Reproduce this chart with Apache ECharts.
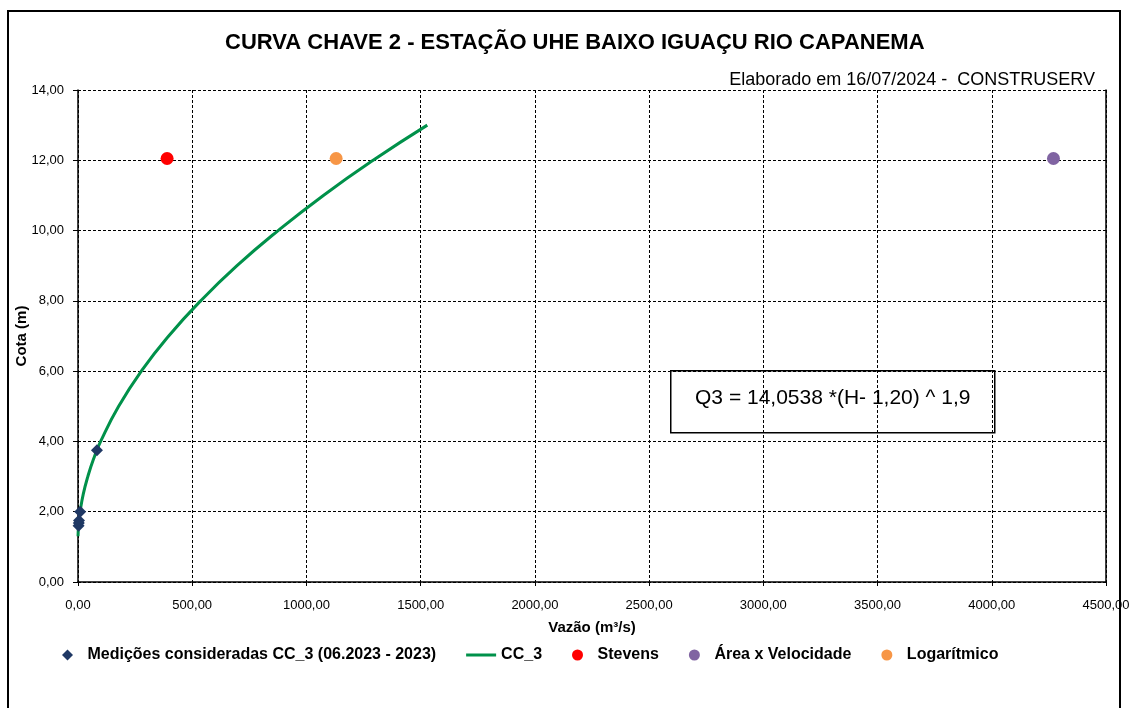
<!DOCTYPE html>
<html>
<head>
<meta charset="utf-8">
<script src="https://cdn.jsdelivr.net/npm/echarts@6/dist/echarts.min.js"></script>
<style>
  html, body { margin: 0; padding: 0; background: #fff; }
  #chart { width: 1129px; height: 708px; }
</style>
</head>
<body>
<div id="chart"></div>
<script>
// medições (vazão m3/s, cota m)
const medQ = [2.5, 3.5, 4.5, 9.5, 83]
const medH = [1.6, 1.68, 1.75, 2.0, 3.75]

// curva CC_3
const curvaQ = [0.2, 0.7, 1.4, 4.5, 9.2, 23, 43, 68, 99, 178, 277, 397, 537, 696, 876, 1074, 1292, 1529]
const curvaH = [1.3, 1.4, 1.5, 1.75, 2, 2.5, 3, 3.5, 4, 5, 6, 7, 8, 9, 10, 11, 12, 13]

const stevens = [[390, 12.05]]
const areaVel = [[4270, 12.05]]
const logaritmico = [[1130, 12.05]]

const yTicks = { min: 0, max: 14, interval: 2 }
const xTicks = { min: 0, max: 4500, interval: 500 }

const fmt = v => v.toFixed(2).replace('.', ',')
const pairs = (a, b) => a.map((v, i) => [v, b[i]])

const chart = echarts.init(document.getElementById('chart'))
const font = 'Liberation Sans'

const option = {
  animation: false,
  backgroundColor: '#fff',
  textStyle: { fontFamily: font },
  title: {
    text: 'CURVA CHAVE 2 - ESTAÇÃO UHE BAIXO IGUAÇU RIO CAPANEMA',
    left: 220,
    top: 27,
    textStyle: { fontSize: 22, fontWeight: 'bold', color: '#000', fontFamily: font }
  },
  grid: { left: 78, right: 23, top: 90, bottom: 126, outerBoundsMode: 'none', containLabel: false },
  legend: {
    top: 642,
    left: 57,
    itemWidth: 30,
    itemHeight: 11,
    itemGap: 30,
    textStyle: { fontSize: 16, fontWeight: 'bold', color: '#000', fontFamily: font },
    data: [
      { name: 'Medições consideradas CC_3 (06.2023 - 2023)', icon: 'path://M5,0L10,5L5,10L0,5Z' },
      { name: 'CC_3', icon: 'path://M0,0H30V3H0Z' },
      { name: 'Stevens', icon: 'circle' },
      { name: 'Área x Velocidade', icon: 'circle' },
      { name: 'Logarítmico', icon: 'circle' }
    ]
  },
  xAxis: {
    type: 'value',
    min: xTicks.min,
    max: xTicks.max,
    interval: xTicks.interval,
    name: 'Vazão (m³/s)',
    nameLocation: 'middle',
    nameGap: 38,
    nameTextStyle: { fontSize: 15, fontWeight: 'bold', color: '#000' },
    axisLine: { show: true, onZero: false, lineStyle: { color: '#000', width: 1.5 } },
    axisTick: { show: true, length: 4, lineStyle: { color: '#000' } },
    axisLabel: { formatter: fmt, fontSize: 13, color: '#000', margin: 17 },
    splitLine: { show: true, lineStyle: { color: '#000', type: [3, 2], width: 1 } }
  },
  yAxis: [
    {
      type: 'value',
      min: yTicks.min,
      max: yTicks.max,
      interval: yTicks.interval,
      name: 'Cota (m)',
      nameLocation: 'middle',
      nameGap: 49,
      nameMoveOverlap: false,
      nameTextStyle: { fontSize: 15, fontWeight: 'bold', color: '#000' },
      axisLine: { show: true, lineStyle: { color: '#000', width: 1.5 } },
      axisTick: { show: true, length: 5, lineStyle: { color: '#000' } },
      axisLabel: { formatter: fmt, fontSize: 13, color: '#000', margin: 14 },
      splitLine: { show: true, lineStyle: { color: '#000', type: [3, 2], width: 1 } }
    },
    {
      type: 'value',
      min: yTicks.min,
      max: yTicks.max,
      interval: yTicks.interval,
      position: 'right',
      axisLine: { show: true, lineStyle: { color: '#000', width: 1.5 } },
      axisTick: { show: false },
      axisLabel: { show: false },
      splitLine: { show: false }
    }
  ],
  graphic: [
    {
      type: 'rect',
      shape: { x: 8, y: 11, width: 1112, height: 710 },
      style: { fill: 'none', stroke: '#000', lineWidth: 2 },
      z: 100
    },
    {
      type: 'text',
      right: 34,
      top: 71,
      style: { text: 'Elaborado em 16/07/2024 -  CONSTRUSERV', font: '18px "Liberation Sans"', fill: '#000' }
    },
    {
      type: 'group',
      left: 670,
      top: 370,
      children: [
        {
          type: 'rect',
          shape: { x: 0, y: 0, width: 324, height: 62 },
          style: { fill: '#fff', stroke: '#000', lineWidth: 1.5 }
        },
        {
          type: 'text',
          x: 162,
          y: 27,
          style: { text: 'Q3 = 14,0538 *(H- 1,20) ^ 1,9', font: '21px "Liberation Sans"', fill: '#000', align: 'center', verticalAlign: 'middle' }
        }
      ]
    }
  ],
  series: [
    {
      name: 'CC_3',
      type: 'line',
      data: pairs(curvaQ, curvaH),
      smooth: true,
      showSymbol: false,
      symbol: 'none',
      itemStyle: { color: '#00914A' },
      lineStyle: { color: '#00914A', width: 3 },
      z: 3
    },
    {
      name: 'Medições consideradas CC_3 (06.2023 - 2023)',
      type: 'scatter',
      data: pairs(medQ, medH),
      symbol: 'diamond',
      symbolSize: 12,
      itemStyle: { color: '#1F3864', opacity: 1 },
      z: 4
    },
    {
      name: 'Stevens',
      type: 'scatter',
      data: stevens,
      symbolSize: 13,
      itemStyle: { color: '#FF0000', opacity: 1 }
    },
    {
      name: 'Área x Velocidade',
      type: 'scatter',
      data: areaVel,
      symbolSize: 13,
      itemStyle: { color: '#8064A2', opacity: 1 }
    },
    {
      name: 'Logarítmico',
      type: 'scatter',
      data: logaritmico,
      symbolSize: 13,
      itemStyle: { color: '#F79646', opacity: 1 }
    }
  ]
}

chart.setOption(option)
</script>
</body>
</html>
